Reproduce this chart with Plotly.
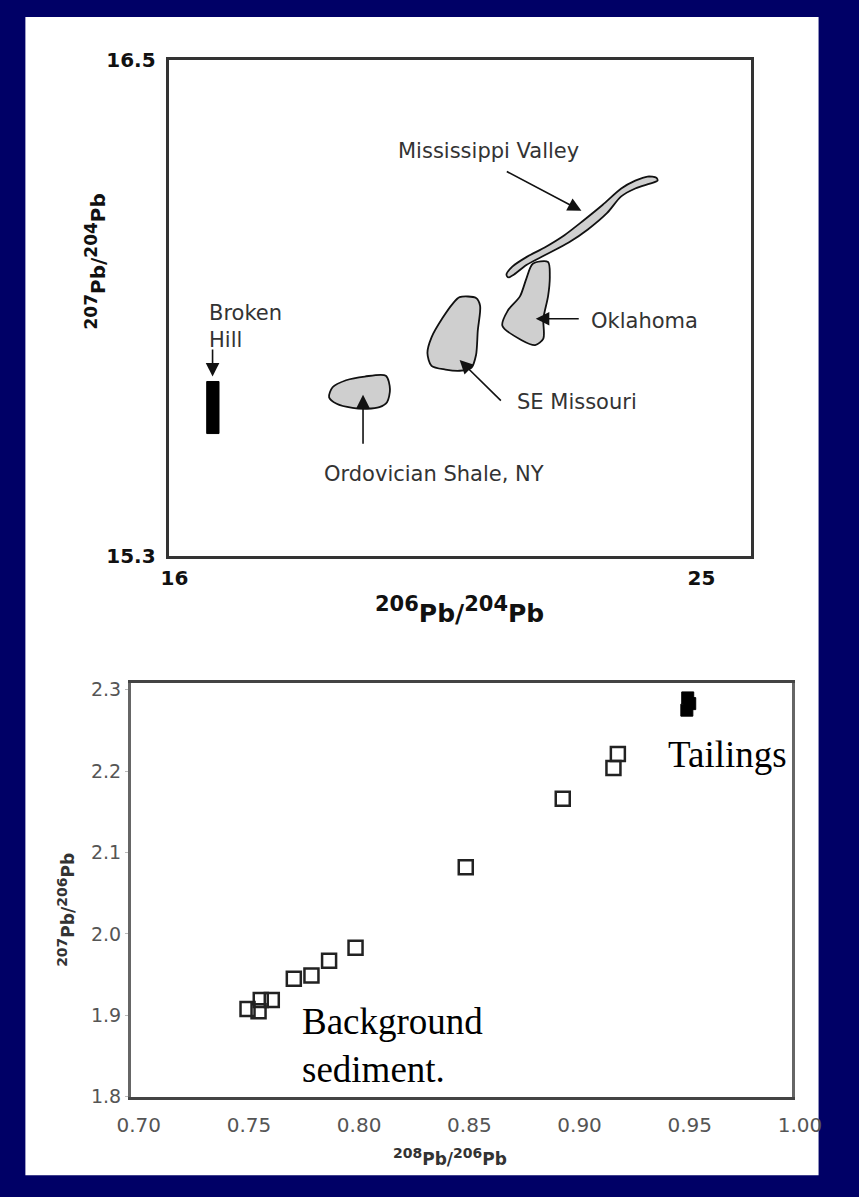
import plotly.graph_objects as go

W, H = 859, 1197

# ---------------- Top chart data (206Pb/204Pb vs 207Pb/204Pb) ----------------
top_xticks = [16, 25]
top_yticks = [15.3, 16.5]

miss_x = [21.67, 21.77, 22.01, 22.33, 22.66, 22.98, 23.31, 23.63, 23.87, 24.08, 24.23, 24.25,
          24.12, 23.87, 23.63, 23.39, 23.06, 22.74, 22.33, 22.01, 21.80, 21.70]
miss_y = [15.981, 16.000, 16.023, 16.047, 16.076, 16.111, 16.149, 16.189, 16.208, 16.218, 16.215, 16.208,
          16.201, 16.189, 16.170, 16.130, 16.090, 16.059, 16.028, 16.004, 15.981, 15.974]

okla_x = [22.12, 22.38, 22.41, 22.38, 22.30, 22.30, 22.16, 21.93, 21.60, 21.69, 21.90, 22.01]
okla_y = [16.007, 16.011, 15.976, 15.928, 15.874, 15.826, 15.810, 15.822, 15.857, 15.893, 15.928, 15.971]

semo_x = [20.87, 21.15, 21.22, 21.18, 21.15, 21.07, 20.87, 20.63, 20.39, 20.32, 20.39, 20.58, 20.75]
semo_y = [15.926, 15.924, 15.905, 15.845, 15.786, 15.755, 15.748, 15.751, 15.760, 15.791, 15.829, 15.876, 15.910]

ordo_x = [19.61, 19.68, 19.63, 19.50, 19.29, 19.04, 18.77, 18.64, 18.70, 18.93, 19.25]
ordo_y = [15.736, 15.703, 15.672, 15.660, 15.656, 15.658, 15.668, 15.684, 15.708, 15.725, 15.734]

broken_x = [16.55, 16.76]
broken_y = [15.596, 15.722]

# ---------------- Bottom chart data ----------------
bg_x = [0.753, 0.758, 0.759, 0.764, 0.774, 0.782, 0.790, 0.802, 0.852, 0.896, 0.919, 0.921]
bg_y = [1.908, 1.905, 1.919, 1.919, 1.945, 1.949, 1.967, 1.983, 2.082, 2.166, 2.204, 2.221]
tail_x = [0.9527, 0.9536, 0.9523]
tail_y = [2.290, 2.283, 2.275]
bot_xticks = [0.70, 0.75, 0.80, 0.85, 0.90, 0.95, 1.00]
bot_xlabels = ["0.70", "0.75", "0.80", "0.85", "0.90", "0.95", "1.00"]
bot_yticks = [1.8, 1.9, 2.0, 2.1, 2.2, 2.3]
bot_ylabels = ["1.8", "1.9", "2.0", "2.1", "2.2", "2.3"]

SANS = "DejaVu Sans"
SERIF = "Liberation Serif"


def iso(a, b, sup_px):
    s = "<sup><span style='font-size:%dpx'>%s</span></sup>"
    return (s % (sup_px, a)) + "Pb/" + (s % (sup_px, b)) + "Pb"


fig = go.Figure()

blob_style = dict(mode="lines", fill="toself", fillcolor="#cfcfcf",
                  line=dict(color="#111", width=1.8, shape="spline", smoothing=0.8),
                  xaxis="x", yaxis="y", showlegend=False, hoverinfo="skip")
for bx, by in [(miss_x, miss_y), (okla_x, okla_y), (semo_x, semo_y), (ordo_x, ordo_y)]:
    fig.add_trace(go.Scatter(x=bx + [bx[0]], y=by + [by[0]], **blob_style))

fig.add_trace(go.Scatter(
    x=[broken_x[0], broken_x[1], broken_x[1], broken_x[0], broken_x[0]],
    y=[broken_y[0], broken_y[0], broken_y[1], broken_y[1], broken_y[0]],
    mode="lines", fill="toself", fillcolor="black", line=dict(color="black", width=1),
    xaxis="x", yaxis="y", showlegend=False, hoverinfo="skip"))

fig.add_trace(go.Scatter(x=bg_x, y=bg_y, mode="markers", xaxis="x2", yaxis="y2",
                         marker=dict(symbol="square-open", size=14, color="#222",
                                     line=dict(width=2.5, color="#222")),
                         showlegend=False))
fig.add_trace(go.Scatter(x=tail_x, y=tail_y, mode="markers", xaxis="x2", yaxis="y2",
                         marker=dict(symbol="square", size=12, color="black",
                                     line=dict(width=1, color="black")),
                         showlegend=False))

ann = []
label_font = dict(family=SANS, size=21, color="#333")


def arrow(x0, y0, x1, y1):
    ann.append(dict(x=x1, y=y1, ax=x0, ay=y0, xref="x", yref="y", axref="x", ayref="y",
                    text="", showarrow=True, arrowhead=2, arrowsize=1.7, arrowwidth=1.6,
                    arrowcolor="#111"))


arrow(21.65, 16.232, 22.95, 16.135)   # Mississippi
arrow(22.93, 15.874, 22.17, 15.874)   # Oklahoma
arrow(21.60, 15.672, 20.87, 15.774)   # SE Missouri
arrow(19.22, 15.568, 19.22, 15.690)   # Ordovician
arrow(16.65, 15.803, 16.65, 15.734)   # Broken Hill

ann += [
    dict(x=21.36, y=16.279, xref="x", yref="y", text="Mississippi Valley", showarrow=False,
         font=label_font, xanchor="center", yanchor="middle"),
    dict(x=23.08, y=15.869, xref="x", yref="y", text="Oklahoma", showarrow=False,
         font=label_font, xanchor="left", yanchor="middle"),
    dict(x=21.81, y=15.672, xref="x", yref="y", text="SE Missouri", showarrow=False,
         font=label_font, xanchor="left", yanchor="middle"),
    dict(x=20.44, y=15.497, xref="x", yref="y", text="Ordovician Shale, NY", showarrow=False,
         font=label_font, xanchor="center", yanchor="middle"),
    dict(x=16.55, y=15.855, xref="x", yref="y", text="Broken<br>Hill", showarrow=False,
         font=label_font, xanchor="left", yanchor="middle", align="left"),
    # top axis titles
    dict(x=470 / W, y=1 - 610 / H, xref="paper", yref="paper",
         text=iso("206", "204", 21), showarrow=False,
         font=dict(family=SANS, size=25, color="#111", weight="bold"),
         xanchor="center", yanchor="middle"),
    dict(x=86 / W, y=1 - 255 / H, xref="paper", yref="paper",
         text=iso("207", "204", 17), showarrow=False, textangle=-90,
         font=dict(family=SANS, size=20, color="#111", weight="bold"),
         xanchor="center", yanchor="middle"),
    # bottom axis titles
    dict(x=460 / W, y=1 - 1168 / H, xref="paper", yref="paper",
         text=iso("208", "206", 14), showarrow=False,
         font=dict(family=SANS, size=17, color="#333", weight="bold"),
         xanchor="center", yanchor="middle"),
    dict(x=54 / W, y=1 - 916 / H, xref="paper", yref="paper",
         text=iso("207", "206", 14), showarrow=False, textangle=-90,
         font=dict(family=SANS, size=17, color="#333", weight="bold"),
         xanchor="center", yanchor="middle"),
    # bottom labels
    dict(x=0.943, y=2.2205, xref="x2", yref="y2", text="Tailings", showarrow=False,
         font=dict(family=SERIF, size=37, color="black"), xanchor="left", yanchor="middle"),
    dict(x=0.777, y=1.8627, xref="x2", yref="y2", text="Background<br>sediment.",
         showarrow=False, align="left",
         font=dict(family=SERIF, size=37, color="black"), xanchor="left", yanchor="middle"),
]

shapes = [
    dict(type="rect", xref="paper", yref="paper", x0=12 / W, x1=848 / W,
         y0=1 - 1187 / H, y1=1 - 5 / H, fillcolor="white", line=dict(width=0), layer="below"),
]

fig.update_layout(
    width=W, height=H, margin=dict(l=0, r=0, t=0, b=0),
    paper_bgcolor="#000066", plot_bgcolor="white",
    showlegend=False, annotations=ann, shapes=shapes,
    xaxis=dict(domain=[163 / W, 777 / W], range=[15.9, 25.85], tickvals=top_xticks,
               ticktext=["16", "25"], showgrid=False, zeroline=False, showline=True,
               mirror=True, linecolor="#333", linewidth=3, ticks="",
               tickfont=dict(family=SANS, size=20, color="#111", weight="bold"),
               ticklabelstandoff=2, anchor="y"),
    yaxis=dict(domain=[1 - 555 / H, 1 - 49 / H], range=[15.3, 16.5], tickvals=top_yticks,
               ticktext=["15.3", "16.5"], showgrid=False, zeroline=False, showline=True,
               mirror=True, linecolor="#333", linewidth=3, ticks="",
               tickfont=dict(family=SANS, size=20, color="#111", weight="bold"),
               ticklabelstandoff=6, anchor="x"),
    xaxis2=dict(domain=[123 / W, 820 / W], range=[0.70, 1.00], tickvals=bot_xticks,
                ticktext=bot_xlabels, showgrid=False, zeroline=False, showline=True,
                mirror=True, linecolor="#444", linewidth=2.5, ticks="",
                tickfont=dict(family=SANS, size=20, color="#555"),
                ticklabelshift=8, ticklabelstandoff=8, anchor="y2"),
    yaxis2=dict(domain=[1 - 1107 / H, 1 - 685 / H], range=[1.8, 2.308], tickvals=bot_yticks,
                ticktext=bot_ylabels, showgrid=False, zeroline=False, showline=True,
                mirror=True, linecolor="#666", linewidth=2.5, ticks="outside", ticklen=3,
                tickcolor="#bbb", tickfont=dict(family=SANS, size=19, color="#555"),
                ticklabelstandoff=0, anchor="x2"),
)

fig.write_html("out.html",
               post_script="document.body.style.margin='0';document.body.style.overflow='hidden';")
